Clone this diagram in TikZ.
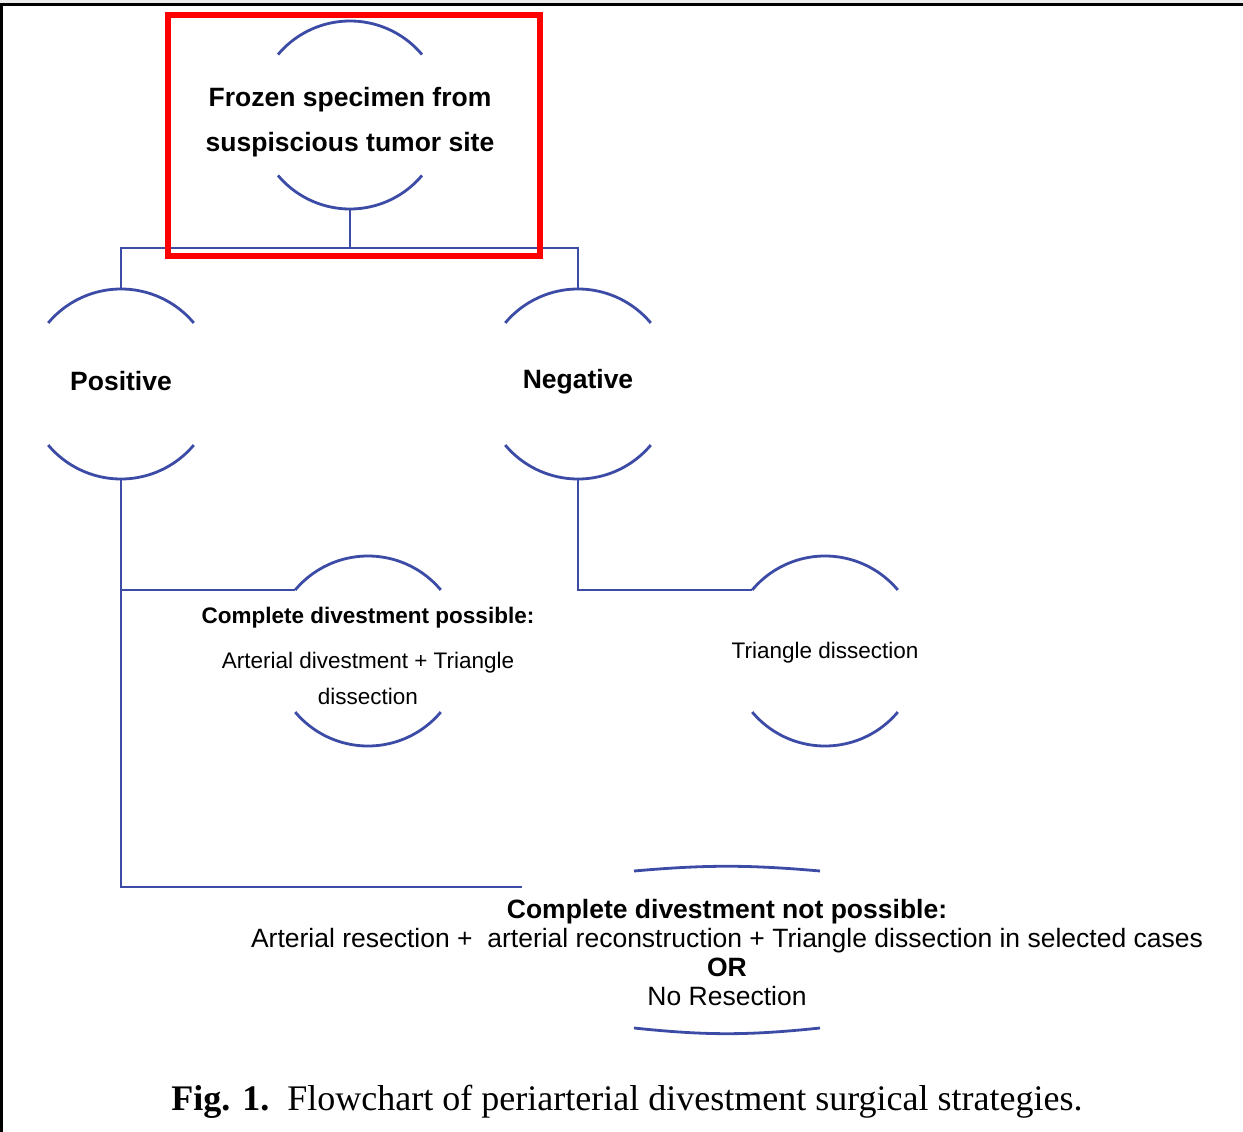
\documentclass[tikz,border=0pt]{standalone}
\usepackage{fontspec}
\setmainfont{Liberation Sans}
\newfontfamily\captionserif{Liberation Serif}

\definecolor{flowblue}{RGB}{60,75,165}

\tikzset{
  flowline/.style={draw=flowblue, line width=2.8pt},
  headtext/.style={inner sep=0pt, align=center, font=\fontsize{26.5}{45}\selectfont\bfseries},
  bodytext/.style={inner sep=0pt, align=center, font=\fontsize{22.5}{36}\selectfont},
  widetext/.style={inner sep=0pt, align=center, font=\fontsize{26.5}{29}\selectfont},
}

% top and bottom arcs of a round step, plus its named ends
% (optional: how far the arcs' centre sits above the text)
\newcommand\caparcs[3][0pt]{%
  \coordinate (#2-c) at ([yshift=#1]#2.center);
  \draw[flowline] ([shift={(40:#3)}]#2-c) arc (40:140:#3);
  \draw[flowline] ([shift={(220:#3)}]#2-c) arc (220:320:#3);
  \coordinate (#2-n) at ([yshift=#3]#2-c);
  \coordinate (#2-s) at ([yshift=-#3]#2-c);
  \coordinate (#2-nw) at ([shift={(140:#3)}]#2-c);
}

\begin{document}
\begin{tikzpicture}[x=1pt, y=1pt]
  \useasboundingbox (0,0) rectangle (1243,-1132);

  % page frame
  \fill[gray!15] (0,0) rectangle (1243,-3);
  \draw[line width=3pt] (0,-4.5) -- (1243,-4.5);
  \draw[line width=2.5pt] (1.5,-4.5) -- (1.5,-1132);

  % Steps
  \node[headtext] (frozen) at (350,-122) {Frozen specimen from\\suspiscious tumor site};
  \node[headtext] (pos) at (121,-381) {Positive};
  \node[headtext] (neg) at (578,-382) {Negative};
  \node[bodytext] (possible) at (368,-656)
    {\textbf{Complete divestment possible:}\\[9pt]Arterial divestment + Triangle\\dissection};
  \node[bodytext] (triangle) at (825,-653) {Triangle dissection};
  \node[widetext] (notposs) at (727,-953)
    {\textbf{Complete divestment not possible:}\\
     Arterial resection +\ \ arterial reconstruction + Triangle dissection in selected cases\\
     \textbf{OR}\\
     No Resection};

  % round outlines
  \caparcs[7pt]{frozen}{94pt}
  \caparcs[-3pt]{pos}{95pt}
  \caparcs[-2pt]{neg}{95pt}
  \caparcs[5pt]{possible}{95pt}
  \caparcs[2pt]{triangle}{95pt}

  % flat outline of the last step
  \draw[flowline] ([shift={(-93pt,82pt)}]notposs.center) to[bend left=5] ([shift={(93pt,82pt)}]notposs.center);
  \draw[flowline] ([shift={(-93pt,-75pt)}]notposs.center) to[bend right=6] ([shift={(93pt,-75pt)}]notposs.center);

  % Connectors
  \draw[flowline] (frozen-s) -- ++(0,-39) coordinate (split);
  \draw[flowline] (pos-n) |- (split) -| (neg-n);
  \coordinate (notposs-in) at (522,-887);
  \draw[flowline] (pos-s) |- (notposs-in);
  \draw[flowline] (pos-s |- possible-nw) -- (possible-nw);
  \draw[flowline] (neg-s) |- (triangle-nw);

  % highlight
  \draw[red, line width=6pt] (168,-15.5) rectangle (540,-256);

  % caption
  \node[inner sep=0pt, font=\captionserif\fontsize{36}{40}\selectfont] (caption) at (627,-1102)
    {\textbf{Fig. 1.}\ \ Flowchart of periarterial divestment surgical strategies.};
\end{tikzpicture}
\end{document}
